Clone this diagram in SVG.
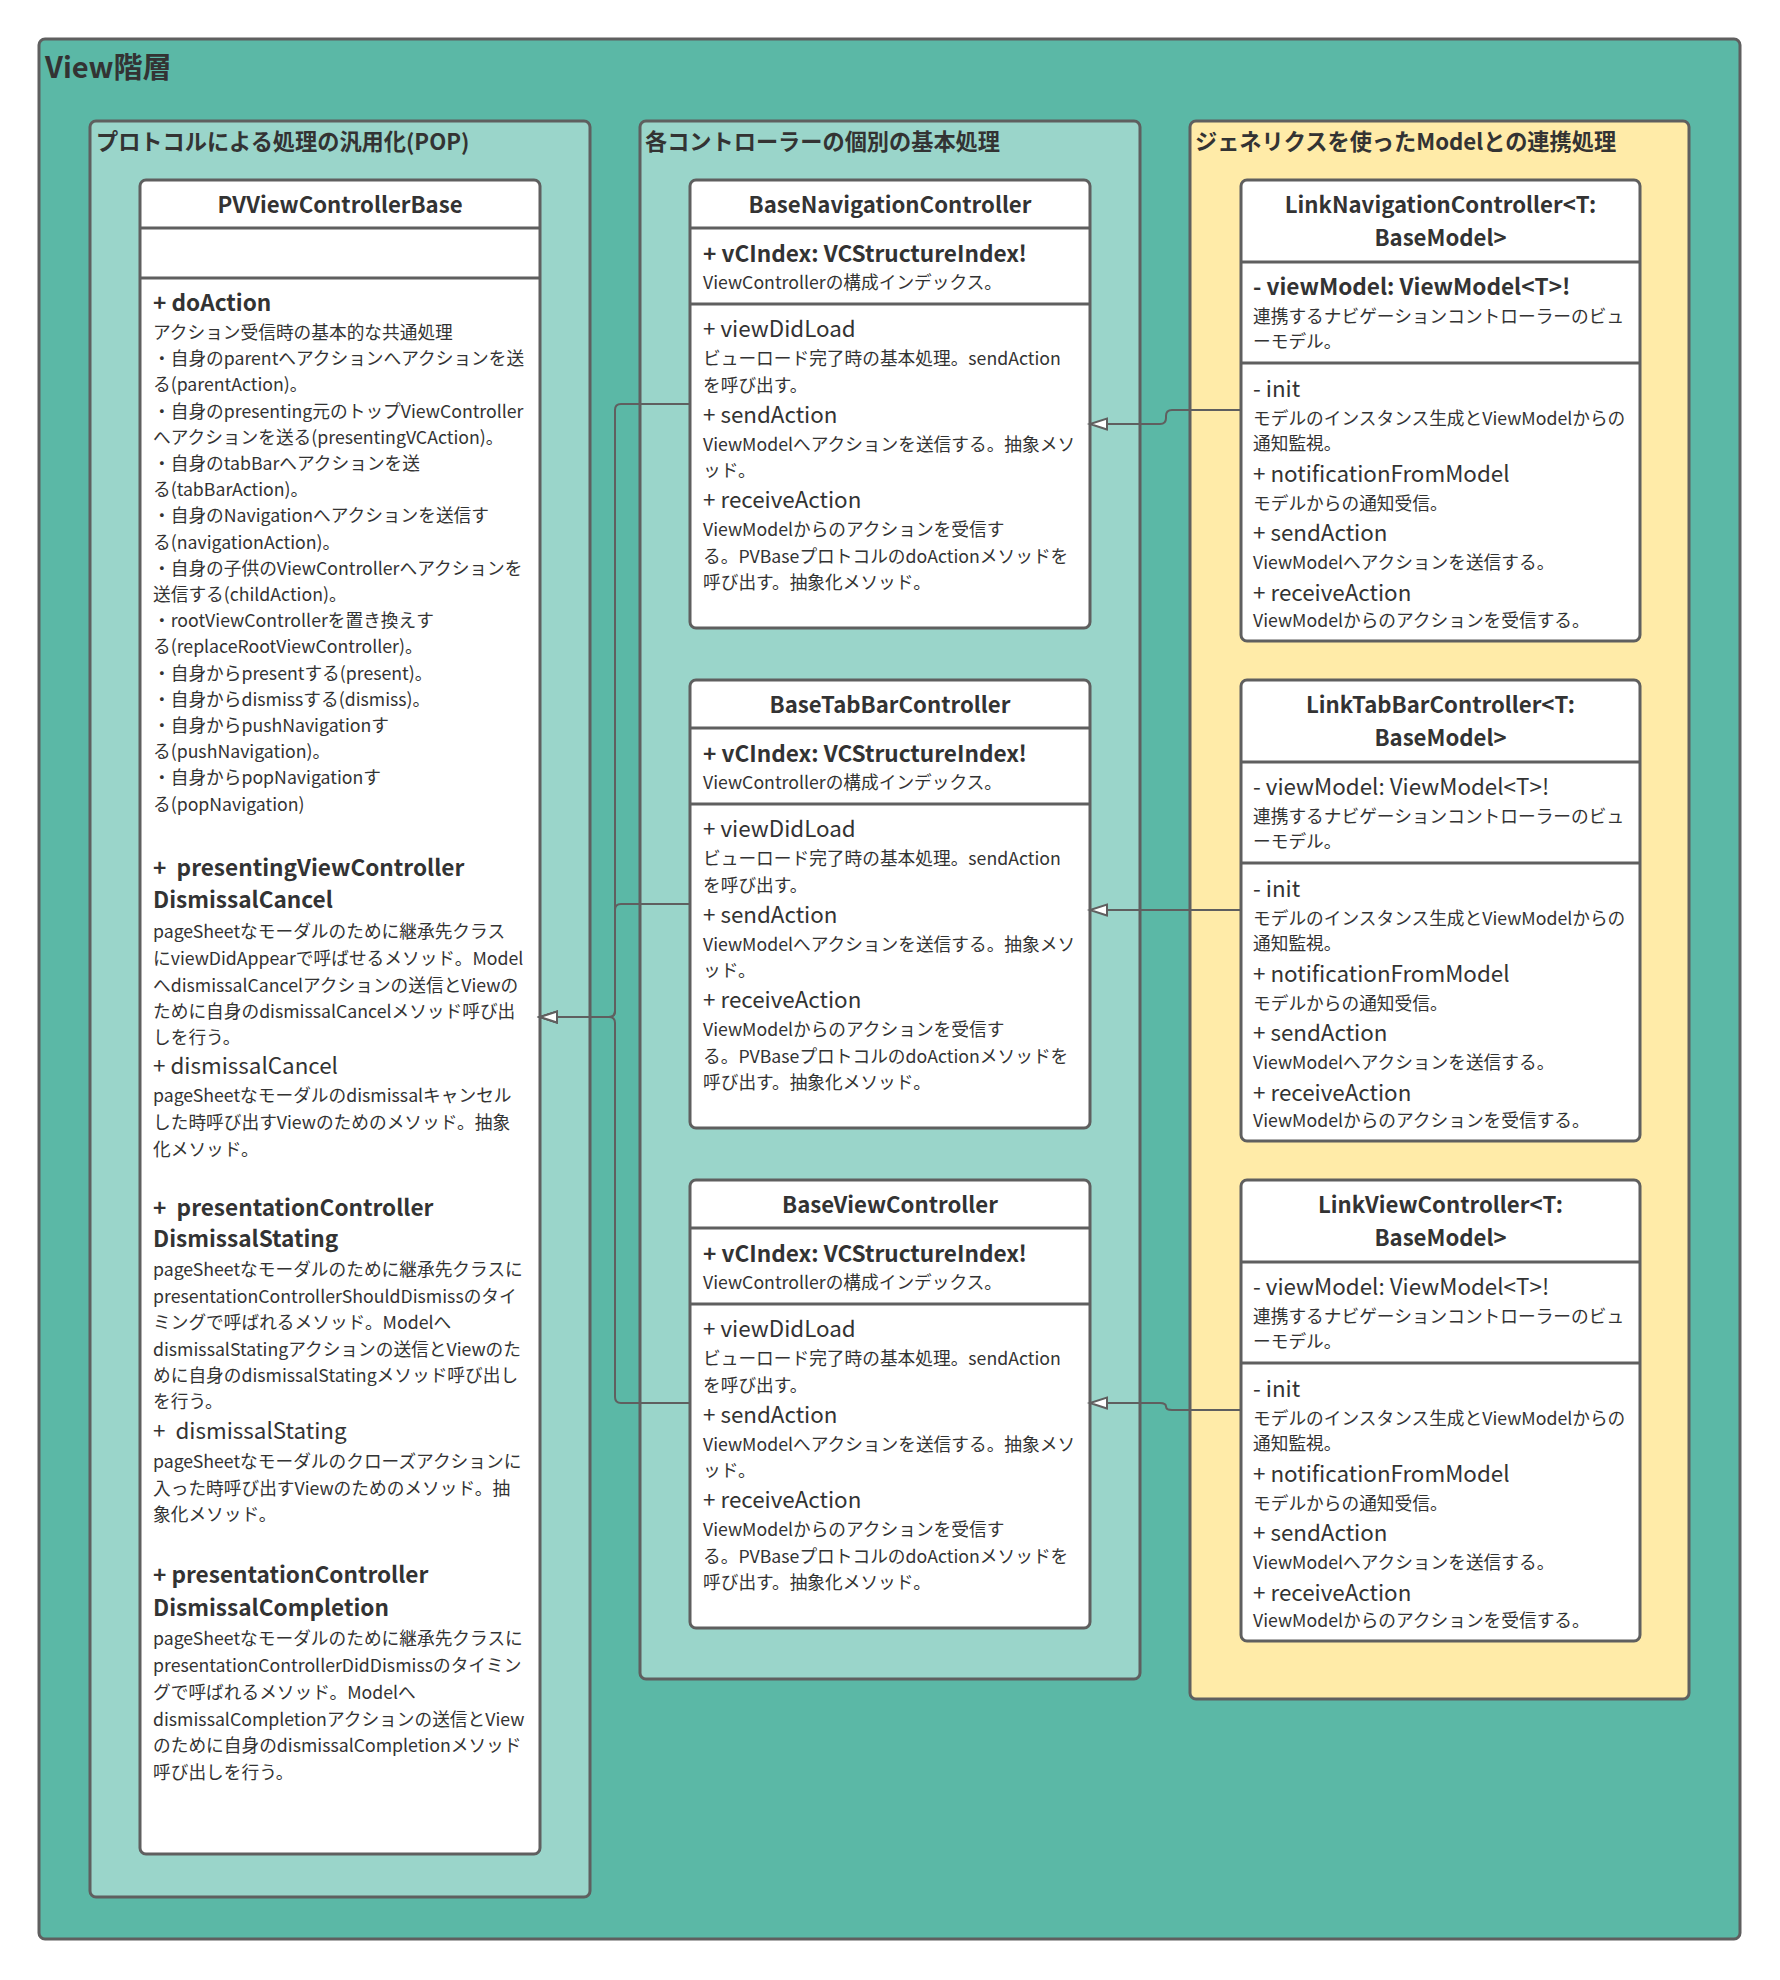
<svg xmlns="http://www.w3.org/2000/svg" width="1780" height="1980" viewBox="0 0 1780 1980">
<defs>
<style>
text { font-family: "Noto Sans CJK JP", "Noto Sans", sans-serif; fill: #333333; white-space: pre; }
.frame { stroke: #5f5f5f; stroke-width: 3; }
.box { fill: #ffffff; stroke: #5f5f5f; stroke-width: 3; }
.sep { stroke: #5f5f5f; stroke-width: 3; }
.h1 { font-size: 29px; font-weight: 700; }
.h2 { font-size: 22.2px; font-weight: 700; }
.ttl { font-size: 22.2px; font-weight: 700; text-anchor: middle; }
.b { font-size: 22.6px; font-weight: 700; }
.n { font-size: 22.4px; font-weight: 400; }
.d { font-size: 17.7px; font-weight: 400; }
.conn { fill: none; stroke: #5f5f5f; stroke-width: 2; marker-end: url(#tri); }
</style>
<marker id="tri" markerUnits="userSpaceOnUse" markerWidth="22" markerHeight="14" refX="18" refY="6.5" orient="auto">
<path d="M1,1 L18,6.5 L1,12 Z" fill="#ffffff" stroke="#5f5f5f" stroke-width="2"/>
</marker>
</defs>

<g id="view-layer">
<rect x="39" y="39" width="1701" height="1900" rx="6" fill="#5bb8a6" class="frame"/>
<text x="45" y="78" class="h1">View階層</text>
</g>

<g id="pop-group">
<rect x="90" y="121" width="500" height="1776" rx="6" fill="#9ad5ca" class="frame"/>
<text x="96" y="150" class="h2">プロトコルによる処理の汎用化(POP)</text>
</g>

<g id="controller-group">
<rect x="640" y="121" width="500" height="1558" rx="6" fill="#9ad5ca" class="frame"/>
<text x="645" y="150" class="h2">各コントローラーの個別の基本処理</text>
</g>

<g id="generics-group">
<rect x="1190" y="121" width="499" height="1578" rx="6" fill="#ffeba8" class="frame"/>
<text x="1195" y="150" class="h2">ジェネリクスを使ったModelとの連携処理</text>
</g>

<g id="PVViewControllerBase">
<rect x="140" y="180" width="400" height="1674" rx="6" class="box"/>
<line x1="140" y1="228" x2="540" y2="228" class="sep"/>
<line x1="140" y1="278" x2="540" y2="278" class="sep"/>
<text x="340" y="213" class="ttl">PVViewControllerBase</text>
<text x="153" y="311" class="b">+ doAction</text>
<text x="153" y="339" class="d">アクション受信時の基本的な共通処理</text>
<text x="153" y="365" class="d">・自身のparentへアクションへアクションを送</text>
<text x="153" y="391" class="d">る(parentAction)。</text>
<text x="153" y="418" class="d">・自身のpresenting元のトップViewController</text>
<text x="153" y="444" class="d">へアクションを送る(presentingVCAction)。</text>
<text x="153" y="470" class="d">・自身のtabBarへアクションを送</text>
<text x="153" y="496" class="d">る(tabBarAction)。</text>
<text x="153" y="522" class="d">・自身のNavigationへアクションを送信す</text>
<text x="153" y="549" class="d">る(navigationAction)。</text>
<text x="153" y="575" class="d">・自身の子供のViewControllerへアクションを</text>
<text x="153" y="601" class="d">送信する(childAction)。</text>
<text x="153" y="627" class="d">・rootViewControllerを置き換えす</text>
<text x="153" y="653" class="d">る(replaceRootViewController)。</text>
<text x="153" y="680" class="d">・自身からpresentする(present)。</text>
<text x="153" y="706" class="d">・自身からdismissする(dismiss)。</text>
<text x="153" y="732" class="d">・自身からpushNavigationす</text>
<text x="153" y="758" class="d">る(pushNavigation)。</text>
<text x="153" y="784" class="d">・自身からpopNavigationす</text>
<text x="153" y="811" class="d">る(popNavigation)</text>

<text x="153" y="876" class="b">+  presentingViewController</text>
<text x="153" y="908" class="b">DismissalCancel</text>
<text x="153" y="938" class="d">pageSheetなモーダルのために継承先クラス</text>
<text x="153" y="965" class="d">にviewDidAppearで呼ばせるメソッド。Model</text>
<text x="153" y="992" class="d">へdismissalCancelアクションの送信とViewの</text>
<text x="153" y="1018" class="d">ために自身のdismissalCancelメソッド呼び出</text>
<text x="153" y="1044" class="d">しを行う。</text>
<text x="153" y="1074" class="n">+ dismissalCancel</text>
<text x="153" y="1102" class="d">pageSheetなモーダルのdismissalキャンセル</text>
<text x="153" y="1129" class="d">した時呼び出すViewのためのメソッド。抽象</text>
<text x="153" y="1156" class="d">化メソッド。</text>

<text x="153" y="1216" class="b">+  presentationController</text>
<text x="153" y="1247" class="b">DismissalStating</text>
<text x="153" y="1276" class="d">pageSheetなモーダルのために継承先クラスに</text>
<text x="153" y="1303" class="d">presentationControllerShouldDismissのタイ</text>
<text x="153" y="1329" class="d">ミングで呼ばれるメソッド。Modelへ</text>
<text x="153" y="1356" class="d">dismissalStatingアクションの送信とViewのた</text>
<text x="153" y="1382" class="d">めに自身のdismissalStatingメソッド呼び出し</text>
<text x="153" y="1408" class="d">を行う。</text>
<text x="153" y="1439" class="n">+  dismissalStating</text>
<text x="153" y="1468" class="d">pageSheetなモーダルのクローズアクションに</text>
<text x="153" y="1495" class="d">入った時呼び出すViewのためのメソッド。抽</text>
<text x="153" y="1521" class="d">象化メソッド。</text>

<text x="153" y="1583" class="b">+ presentationController</text>
<text x="153" y="1616" class="b">DismissalCompletion</text>
<text x="153" y="1645" class="d">pageSheetなモーダルのために継承先クラスに</text>
<text x="153" y="1672" class="d">presentationControllerDidDismissのタイミン</text>
<text x="153" y="1699" class="d">グで呼ばれるメソッド。Modelへ</text>
<text x="153" y="1726" class="d">dismissalCompletionアクションの送信とView</text>
<text x="153" y="1752" class="d">のために自身のdismissalCompletionメソッド</text>
<text x="153" y="1779" class="d">呼び出しを行う。</text>
</g>

<g id="BaseNavigationController" transform="translate(0,180)">
<rect x="690" y="0" width="400" height="448" rx="6" class="box"/>
<line x1="690" y1="48" x2="1090" y2="48" class="sep"/>
<line x1="690" y1="124" x2="1090" y2="124" class="sep"/>
<text x="890" y="33" class="ttl">BaseNavigationController</text>
<text x="703" y="82" class="b">+ vCIndex: VCStructureIndex!</text>
<text x="703" y="109" class="d">ViewControllerの構成インデックス。</text>
<text x="703" y="157" class="n">+ viewDidLoad</text>
<text x="703" y="185" class="d">ビューロード完了時の基本処理。sendAction</text>
<text x="703" y="212" class="d">を呼び出す。</text>
<text x="703" y="243" class="n">+ sendAction</text>
<text x="703" y="271" class="d">ViewModelへアクションを送信する。抽象メソ</text>
<text x="703" y="297" class="d">ッド。</text>
<text x="703" y="328" class="n">+ receiveAction</text>
<text x="703" y="356" class="d">ViewModelからのアクションを受信す</text>
<text x="703" y="383" class="d">る。PVBaseプロトコルのdoActionメソッドを</text>
<text x="703" y="409" class="d">呼び出す。抽象化メソッド。</text>
</g>

<g id="BaseTabBarController" transform="translate(0,680)">
<rect x="690" y="0" width="400" height="448" rx="6" class="box"/>
<line x1="690" y1="48" x2="1090" y2="48" class="sep"/>
<line x1="690" y1="124" x2="1090" y2="124" class="sep"/>
<text x="890" y="33" class="ttl">BaseTabBarController</text>
<text x="703" y="82" class="b">+ vCIndex: VCStructureIndex!</text>
<text x="703" y="109" class="d">ViewControllerの構成インデックス。</text>
<text x="703" y="157" class="n">+ viewDidLoad</text>
<text x="703" y="185" class="d">ビューロード完了時の基本処理。sendAction</text>
<text x="703" y="212" class="d">を呼び出す。</text>
<text x="703" y="243" class="n">+ sendAction</text>
<text x="703" y="271" class="d">ViewModelへアクションを送信する。抽象メソ</text>
<text x="703" y="297" class="d">ッド。</text>
<text x="703" y="328" class="n">+ receiveAction</text>
<text x="703" y="356" class="d">ViewModelからのアクションを受信す</text>
<text x="703" y="383" class="d">る。PVBaseプロトコルのdoActionメソッドを</text>
<text x="703" y="409" class="d">呼び出す。抽象化メソッド。</text>
</g>

<g id="BaseViewController" transform="translate(0,1180)">
<rect x="690" y="0" width="400" height="448" rx="6" class="box"/>
<line x1="690" y1="48" x2="1090" y2="48" class="sep"/>
<line x1="690" y1="124" x2="1090" y2="124" class="sep"/>
<text x="890" y="33" class="ttl">BaseViewController</text>
<text x="703" y="82" class="b">+ vCIndex: VCStructureIndex!</text>
<text x="703" y="109" class="d">ViewControllerの構成インデックス。</text>
<text x="703" y="157" class="n">+ viewDidLoad</text>
<text x="703" y="185" class="d">ビューロード完了時の基本処理。sendAction</text>
<text x="703" y="212" class="d">を呼び出す。</text>
<text x="703" y="243" class="n">+ sendAction</text>
<text x="703" y="271" class="d">ViewModelへアクションを送信する。抽象メソ</text>
<text x="703" y="297" class="d">ッド。</text>
<text x="703" y="328" class="n">+ receiveAction</text>
<text x="703" y="356" class="d">ViewModelからのアクションを受信す</text>
<text x="703" y="383" class="d">る。PVBaseプロトコルのdoActionメソッドを</text>
<text x="703" y="409" class="d">呼び出す。抽象化メソッド。</text>
</g>

<g id="LinkNavigationController" transform="translate(0,180)">
<rect x="1241" y="0" width="399" height="461" rx="6" class="box"/>
<line x1="1241" y1="82" x2="1640" y2="82" class="sep"/>
<line x1="1241" y1="183" x2="1640" y2="183" class="sep"/>
<text x="1440.5" y="33" class="ttl">LinkNavigationController&lt;T:</text>
<text x="1440.5" y="66" class="ttl">BaseModel&gt;</text>
<text x="1253" y="115" class="b">- viewModel: ViewModel&lt;T&gt;!</text>
<text x="1253" y="143" class="d">連携するナビゲーションコントローラーのビュ</text>
<text x="1253" y="168" class="d">ーモデル。</text>
<text x="1253" y="217" class="n">- init</text>
<text x="1253" y="245" class="d">モデルのインスタンス生成とViewModelからの</text>
<text x="1253" y="270" class="d">通知監視。</text>
<text x="1253" y="302" class="n">+ notificationFromModel</text>
<text x="1253" y="330" class="d">モデルからの通知受信。</text>
<text x="1253" y="361" class="n">+ sendAction</text>
<text x="1253" y="389" class="d">ViewModelへアクションを送信する。</text>
<text x="1253" y="421" class="n">+ receiveAction</text>
<text x="1253" y="447" class="d">ViewModelからのアクションを受信する。</text>
</g>

<g id="LinkTabBarController" transform="translate(0,680)">
<rect x="1241" y="0" width="399" height="461" rx="6" class="box"/>
<line x1="1241" y1="82" x2="1640" y2="82" class="sep"/>
<line x1="1241" y1="183" x2="1640" y2="183" class="sep"/>
<text x="1440.5" y="33" class="ttl">LinkTabBarController&lt;T:</text>
<text x="1440.5" y="66" class="ttl">BaseModel&gt;</text>
<text x="1253" y="115" class="n">- viewModel: ViewModel&lt;T&gt;!</text>
<text x="1253" y="143" class="d">連携するナビゲーションコントローラーのビュ</text>
<text x="1253" y="168" class="d">ーモデル。</text>
<text x="1253" y="217" class="n">- init</text>
<text x="1253" y="245" class="d">モデルのインスタンス生成とViewModelからの</text>
<text x="1253" y="270" class="d">通知監視。</text>
<text x="1253" y="302" class="n">+ notificationFromModel</text>
<text x="1253" y="330" class="d">モデルからの通知受信。</text>
<text x="1253" y="361" class="n">+ sendAction</text>
<text x="1253" y="389" class="d">ViewModelへアクションを送信する。</text>
<text x="1253" y="421" class="n">+ receiveAction</text>
<text x="1253" y="447" class="d">ViewModelからのアクションを受信する。</text>
</g>

<g id="LinkViewController" transform="translate(0,1180)">
<rect x="1241" y="0" width="399" height="461" rx="6" class="box"/>
<line x1="1241" y1="82" x2="1640" y2="82" class="sep"/>
<line x1="1241" y1="183" x2="1640" y2="183" class="sep"/>
<text x="1440.5" y="33" class="ttl">LinkViewController&lt;T:</text>
<text x="1440.5" y="66" class="ttl">BaseModel&gt;</text>
<text x="1253" y="115" class="n">- viewModel: ViewModel&lt;T&gt;!</text>
<text x="1253" y="143" class="d">連携するナビゲーションコントローラーのビュ</text>
<text x="1253" y="168" class="d">ーモデル。</text>
<text x="1253" y="217" class="n">- init</text>
<text x="1253" y="245" class="d">モデルのインスタンス生成とViewModelからの</text>
<text x="1253" y="270" class="d">通知監視。</text>
<text x="1253" y="302" class="n">+ notificationFromModel</text>
<text x="1253" y="330" class="d">モデルからの通知受信。</text>
<text x="1253" y="361" class="n">+ sendAction</text>
<text x="1253" y="389" class="d">ViewModelへアクションを送信する。</text>
<text x="1253" y="421" class="n">+ receiveAction</text>
<text x="1253" y="447" class="d">ViewModelからのアクションを受信する。</text>
</g>

<g id="connectors">
<path class="conn" d="M1241,410 L1172,410 Q1166,410 1166,416 L1166,418 Q1166,424 1160,424 L1090,424"/>
<path class="conn" d="M1241,910 L1090,910"/>
<path class="conn" d="M1241,1410 L1172,1410 Q1166,1410 1166,1406.5 Q1166,1403 1160,1403 L1090,1403"/>
<path class="conn" d="M690,404 L621,404 Q615,404 615,410 L615,1011 Q615,1017 609,1017 L540,1017"/>
<path class="conn" d="M690,904 L621,904 Q615,904 615,910 L615,1011 Q615,1017 609,1017 L540,1017"/>
<path class="conn" d="M690,1403 L621,1403 Q615,1403 615,1397 L615,1023 Q615,1017 609,1017 L540,1017"/>
</g>
</svg>
